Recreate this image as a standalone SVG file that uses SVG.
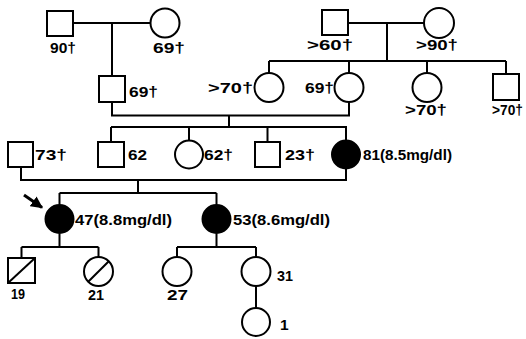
<svg xmlns="http://www.w3.org/2000/svg" width="526" height="339" viewBox="0 0 526 339">
<style>
.s{fill:#fff;stroke:#000;stroke-width:2}
.a{fill:#000;stroke:#000;stroke-width:2}
.l{fill:none;stroke:#000;stroke-width:2}
text{font-family:"Liberation Sans",Arial,sans-serif;font-weight:bold;font-size:15.5px;fill:#000}
</style>
<defs>
<marker id="ah" viewBox="0 0 10 10" refX="9" refY="5" markerWidth="4" markerHeight="4" orient="auto"><path d="M0,0 L10,5 L0,10 z" fill="#000"/></marker>
</defs>
<g id="connectors" class="l">
<path d="M73,23 H150.5 M112,23 V76"/>
<path d="M348,23 H424 M387,23 V61 M269,61 H506 M269,61 V73 M349,61 V73 M427,61 V73 M506,61 V74"/>
<path d="M112,102 V115.5 H349 V102 M229,115.5 V127 M111,127 H347 M111,127 V142 M189,127 V140.5 M267.5,127 V142 M346,127 V140"/>
<path d="M21,167 V180 H346 V169 M138,180 V193 M59.5,193 H216.5 M59.5,193 V204.5 M216.5,193 V204.5"/>
<path d="M59.5,233.5 V247 M21.5,247 H98.5 M21.5,247 V258 M98.5,247 V257"/>
<path d="M216.5,233.5 V247 M177,247 H256 M177,247 V257 M256,247 V257 M256,286 V308"/>
<path d="M24,195 L42,207.5" marker-end="url(#ah)" stroke-width="3"/>
</g>
<g id="I1"><rect class="s" x="47" y="11" width="26" height="25"/><text x="50" y="53" textLength="26" lengthAdjust="spacingAndGlyphs">90†</text></g>
<g id="I2"><circle class="s" cx="165" cy="23" r="14.5"/><text x="153" y="53" textLength="32" lengthAdjust="spacingAndGlyphs">69†</text></g>
<g id="I3"><rect class="s" x="322" y="10" width="26" height="25"/><text x="307" y="50" textLength="46" lengthAdjust="spacingAndGlyphs">&gt;60†</text></g>
<g id="I4"><circle class="s" cx="439" cy="23" r="15"/><text x="416" y="50" textLength="42" lengthAdjust="spacingAndGlyphs">&gt;90†</text></g>
<g id="II1"><rect class="s" x="99" y="76" width="26" height="26"/><text x="129" y="97" textLength="29" lengthAdjust="spacingAndGlyphs">69†</text></g>
<g id="II2"><circle class="s" cx="269" cy="87.5" r="14.5"/><text x="208" y="93" textLength="45" lengthAdjust="spacingAndGlyphs">&gt;70†</text></g>
<g id="II3"><circle class="s" cx="349" cy="87.5" r="14.5"/><text x="305" y="93" textLength="29" lengthAdjust="spacingAndGlyphs">69†</text></g>
<g id="II4"><circle class="s" cx="427" cy="87.5" r="14.5"/><text x="405" y="115" textLength="42" lengthAdjust="spacingAndGlyphs">&gt;70†</text></g>
<g id="II5"><rect class="s" x="493" y="74" width="26" height="26"/><text x="492" y="115" textLength="31" lengthAdjust="spacingAndGlyphs">&gt;70†</text></g>
<g id="III1"><rect class="s" x="8" y="142" width="25" height="25"/><text x="35" y="160" textLength="32" lengthAdjust="spacingAndGlyphs">73†</text></g>
<g id="III2"><rect class="s" x="98" y="142" width="26" height="25"/><text x="128" y="160" textLength="19" lengthAdjust="spacingAndGlyphs">62</text></g>
<g id="III3"><circle class="s" cx="189" cy="154.5" r="14"/><text x="204" y="160" textLength="29" lengthAdjust="spacingAndGlyphs">62†</text></g>
<g id="III4"><rect class="s" x="255" y="142" width="25" height="25"/><text x="285" y="160" textLength="30" lengthAdjust="spacingAndGlyphs">23†</text></g>
<g id="III5"><circle class="a" cx="346" cy="154.5" r="14"/><text x="363" y="160" textLength="89" lengthAdjust="spacingAndGlyphs">81(8.5mg/dl)</text></g>
<g id="IV1"><circle class="a" cx="59.5" cy="219" r="14"/><text x="75" y="225" textLength="97" lengthAdjust="spacingAndGlyphs">47(8.8mg/dl)</text></g>
<g id="IV2"><circle class="a" cx="216.5" cy="219" r="14"/><text x="233" y="225" textLength="97" lengthAdjust="spacingAndGlyphs">53(8.6mg/dl)</text></g>
<g id="V1"><rect class="s" x="8" y="258" width="27" height="25"/><path class="l" d="M8,283 L35,258"/><text x="11" y="299" textLength="14" lengthAdjust="spacingAndGlyphs">19</text></g>
<g id="V2"><circle class="s" cx="98.5" cy="271.5" r="14.5"/><path class="l" d="M88.2,281.8 L108.8,261.2"/><text x="88" y="300" textLength="16" lengthAdjust="spacingAndGlyphs">21</text></g>
<g id="V3"><circle class="s" cx="177" cy="271.5" r="14.5"/><text x="167" y="300" textLength="21" lengthAdjust="spacingAndGlyphs">27</text></g>
<g id="V4"><circle class="s" cx="256" cy="271.5" r="14.5"/><text x="277" y="281" textLength="16" lengthAdjust="spacingAndGlyphs">31</text></g>
<g id="VI1"><circle class="s" cx="256" cy="322" r="14"/><text x="280" y="330">1</text></g>
</svg>
